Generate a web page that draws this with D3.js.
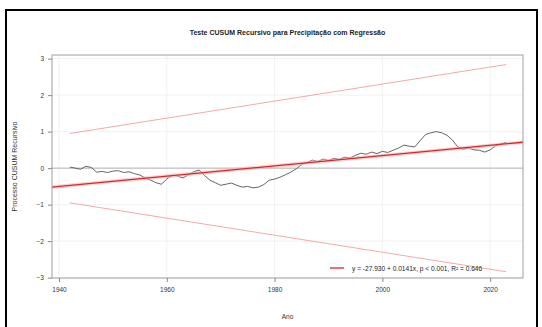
<!DOCTYPE html>
<html>
<head>
<meta charset="utf-8">
<script src="https://cdn.jsdelivr.net/npm/d3@7"></script>
<style>
  body { margin: 0; background: #fff; }
  svg { display: block; font-family: "Liberation Sans", Arial, sans-serif; }
</style>
</head>
<body>
<div id="chart"></div>
<script>
// recursive CUSUM of precipitation, one value per year
const years = [1942, 1943, 1944, 1945, 1946, 1947, 1948, 1949, 1950, 1951,
  1952, 1953, 1954, 1955, 1956, 1957, 1958, 1959, 1960, 1961,
  1962, 1963, 1964, 1965, 1966, 1967, 1968, 1969, 1970, 1971,
  1972, 1973, 1974, 1975, 1976, 1977, 1978, 1979, 1980, 1981,
  1982, 1983, 1984, 1985, 1986, 1987, 1988, 1989, 1990, 1991,
  1992, 1993, 1994, 1995, 1996, 1997, 1998, 1999, 2000, 2001,
  2002, 2003, 2004, 2005, 2006, 2007, 2008, 2009, 2010, 2011,
  2012, 2013, 2014, 2015, 2016, 2017, 2018, 2019, 2020, 2021,
  2022, 2023];
const cusum = [0.03, 0.00, -0.03, 0.05, 0.02, -0.11, -0.09, -0.12, -0.08, -0.07,
  -0.12, -0.10, -0.15, -0.19, -0.27, -0.33, -0.40, -0.44, -0.30, -0.19,
  -0.22, -0.27, -0.18, -0.10, -0.05, -0.20, -0.33, -0.40, -0.47, -0.44,
  -0.41, -0.47, -0.52, -0.50, -0.54, -0.52, -0.45, -0.33, -0.30, -0.25,
  -0.18, -0.11, -0.02, 0.10, 0.15, 0.22, 0.18, 0.25, 0.21, 0.27,
  0.24, 0.30, 0.28, 0.35, 0.41, 0.38, 0.44, 0.40, 0.46, 0.43,
  0.49, 0.55, 0.63, 0.60, 0.58, 0.75, 0.92, 0.97, 1.00, 0.97,
  0.90, 0.77, 0.58, 0.52, 0.55, 0.50, 0.49, 0.44, 0.50, 0.61,
  0.66, 0.71];

// 5% significance boundaries (end points)
const boundYears = [1942, 2023];
const upperBound = [0.95, 2.84];
const lowerBound = [-0.95, -2.84];

// linear regression of the CUSUM process (end points)
const regYears = [1938.7, 2026.1];
const regValues = [-0.52, 0.71];
const regBand = [0.05, 0.05];

const xTicks = [1940, 1960, 1980, 2000, 2020];
const yTicks = [-3, -2, -1, 0, 1, 2, 3];

const title = "Teste CUSUM Recursivo para Precipitação com Regressão";
const xLabel = "Ano";
const yLabel = "Processo CUSUM Recursivo";
const legendText = "y = -27.930 + 0.0141x, p < 0.001, R² = 0.646";

const W = 542, H = 327;
const panel = { left: 52, top: 55, right: 523, bottom: 278 };

const svg = d3.select('#chart').append('svg')
  .attr('width', W).attr('height', H);

// outer frame
svg.append('rect')
  .attr('x', 6).attr('y', 10)
  .attr('width', 531).attr('height', 340)
  .attr('fill', 'none').attr('stroke', '#000').attr('stroke-width', 2);

const x = d3.scaleLinear().domain([1938.7, 2026.1]).range([panel.left, panel.right]);
const y = d3.scaleLinear().domain([-3.01, 3.10]).range([panel.bottom, panel.top]);

// grid
const grid = svg.append('g').attr('stroke', '#ededed').attr('stroke-width', 0.8);
grid.selectAll('line.v').data(xTicks).enter().append('line')
  .attr('x1', d => x(d)).attr('x2', d => x(d))
  .attr('y1', panel.top).attr('y2', panel.bottom);
grid.selectAll('line.h').data(yTicks).enter().append('line')
  .attr('x1', panel.left).attr('x2', panel.right)
  .attr('y1', d => y(d)).attr('y2', d => y(d));

// zero line
svg.append('line')
  .attr('x1', panel.left).attr('x2', panel.right)
  .attr('y1', y(0)).attr('y2', y(0))
  .attr('stroke', '#b4b4b4').attr('stroke-width', 1);

// boundaries
const bLine = d3.line().x((d, i) => x(boundYears[i])).y(d => y(d));
[upperBound, lowerBound].forEach(b => {
  svg.append('path').attr('d', bLine(b))
    .attr('fill', 'none').attr('stroke', '#f3aaaa').attr('stroke-width', 1);
});

// cusum process
svg.append('path')
  .attr('d', d3.line().x((d, i) => x(years[i])).y(d => y(d))(cusum))
  .attr('fill', 'none').attr('stroke', '#555').attr('stroke-width', 0.9);

// regression band + line
svg.append('path')
  .attr('d', d3.area()
    .x((d, i) => x(regYears[i]))
    .y0((d, i) => y(d - regBand[i]))
    .y1((d, i) => y(d + regBand[i]))(regValues))
  .attr('fill', '#f6b4b4').attr('opacity', 0.6);
svg.append('path')
  .attr('d', d3.line().x((d, i) => x(regYears[i])).y(d => y(d))(regValues))
  .attr('fill', 'none').attr('stroke', '#d8262b').attr('stroke-width', 1.3);

// panel border
svg.append('rect')
  .attr('x', panel.left).attr('y', panel.top)
  .attr('width', panel.right - panel.left).attr('height', panel.bottom - panel.top)
  .attr('fill', 'none').attr('stroke', '#a0a0a0').attr('stroke-width', 1);

// axes
const xAxis = svg.append('g')
  .attr('transform', `translate(0,${panel.bottom})`)
  .call(d3.axisBottom(x).tickValues(xTicks).tickSize(4).tickPadding(5).tickFormat(d3.format('d')));
const yAxis = svg.append('g')
  .attr('transform', `translate(${panel.left},0)`)
  .call(d3.axisLeft(y).tickValues(yTicks).tickSize(4).tickPadding(4).tickFormat(d3.format('d')));
[xAxis, yAxis].forEach(a => {
  a.select('.domain').remove();
  a.selectAll('line').attr('stroke', '#888');
  a.selectAll('text').attr('fill', '#333').attr('font-size', 6.5).attr('font-family', '"Liberation Sans", Arial, sans-serif');
});

// titles
svg.append('text')
  .attr('x', (panel.left + panel.right) / 2).attr('y', 35)
  .attr('text-anchor', 'middle').attr('font-size', 7).attr('font-weight', 'bold')
  .attr('fill', '#222').text(title);
svg.append('text')
  .attr('x', (panel.left + panel.right) / 2).attr('y', 319)
  .attr('text-anchor', 'middle').attr('font-size', 6.5).attr('fill', '#333').text(xLabel);
svg.append('text')
  .attr('transform', `translate(17,${(panel.top + panel.bottom) / 2}) rotate(-90)`)
  .attr('text-anchor', 'middle').attr('font-size', 7).attr('fill', '#333').text(yLabel);

// legend
svg.append('line')
  .attr('x1', 330).attr('x2', 344).attr('y1', 268).attr('y2', 268)
  .attr('stroke', '#d8262b').attr('stroke-width', 1.3);
svg.append('text')
  .attr('x', 352).attr('y', 270.5)
  .attr('font-size', 6.6).attr('fill', '#222').text(legendText);
</script>
</body>
</html>
